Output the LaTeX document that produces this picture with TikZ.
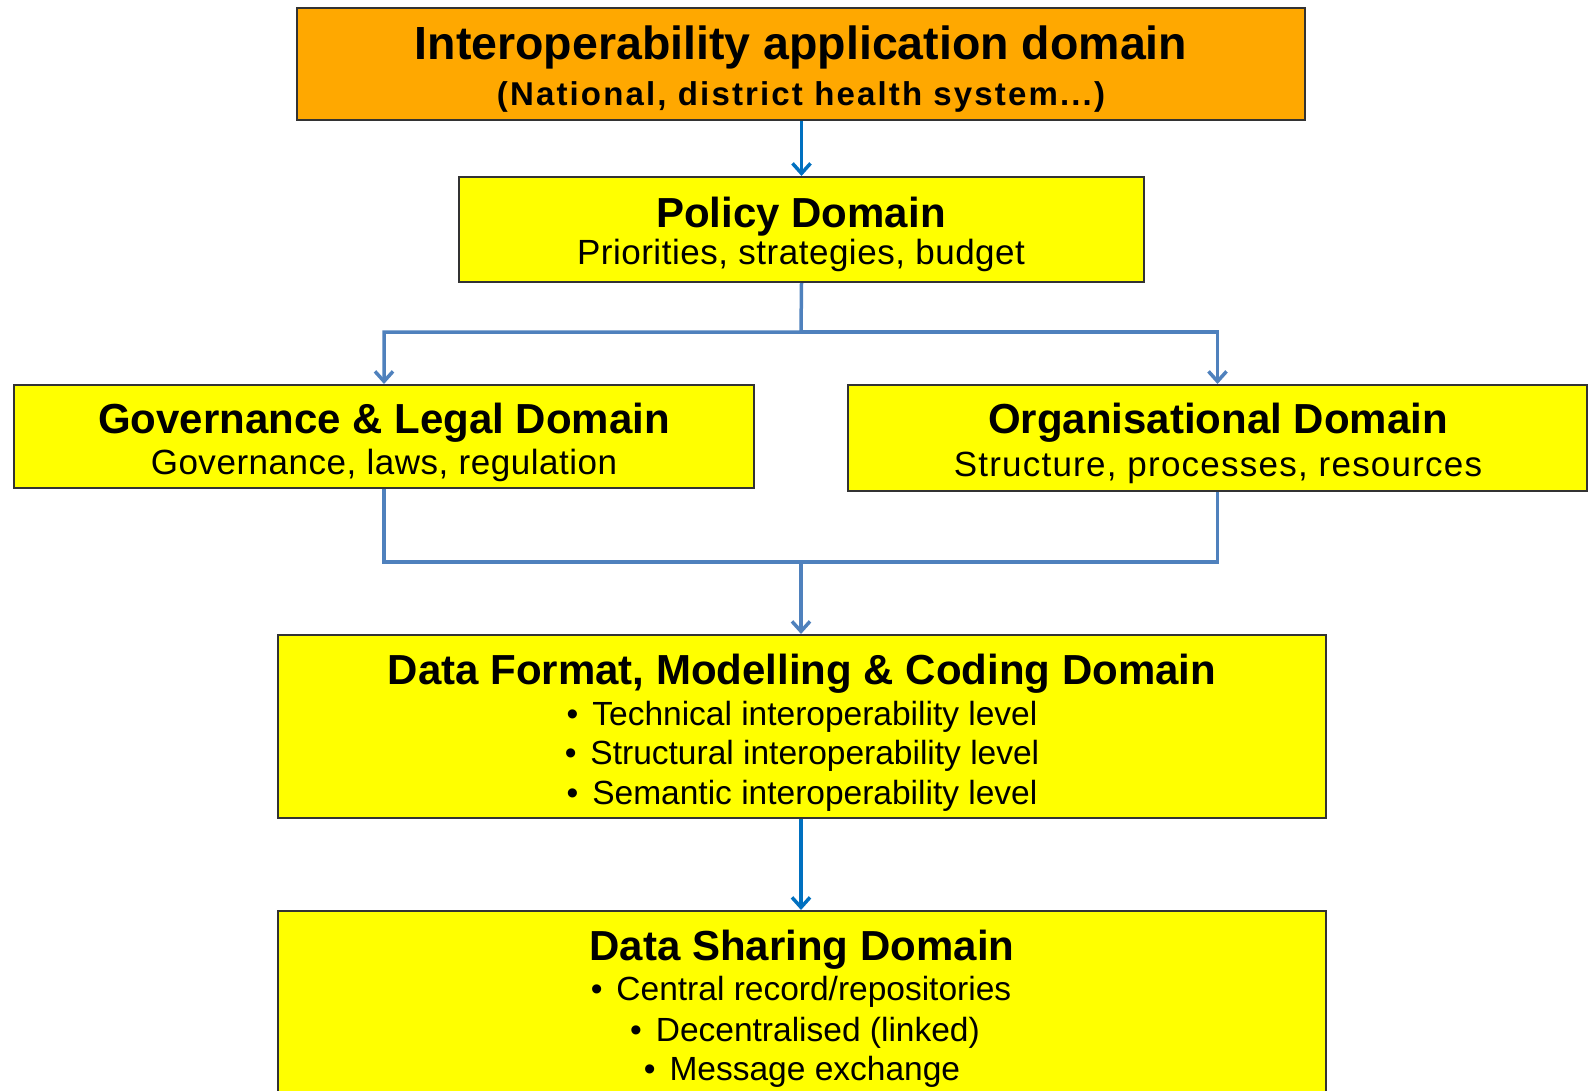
\documentclass[tikz,border=0pt]{standalone}
\usepackage{fontspec}
\setmainfont{Liberation Sans}
\usetikzlibrary{arrows.meta}
\tikzset{>={Straight Barb[length=10pt,width=18pt]}}

\definecolor{boxorange}{HTML}{FFA800}
\definecolor{boxyellow}{HTML}{FFFF00}
\definecolor{linkblue}{HTML}{0070C0}
\definecolor{branchblue}{HTML}{4F81BD}

\tikzset{
  domainbox/.style={draw=black!80, line width=2pt, fill=boxyellow, inner sep=0pt},
  headtext/.style={anchor=base, font=\fontsize{42}{42}\selectfont\bfseries},
  subtext/.style={anchor=base, font=\fontsize{35}{35}\selectfont\addfontfeatures{LetterSpace=1.5}},
  itemtext/.style={anchor=base, font=\fontsize{33.5}{33}\selectfont},
  linkline/.style={draw=linkblue, line width=3.5pt},
  branchline/.style={draw=branchblue, line width=3.5pt}
}

\newcommand{\bul}{\textbullet\hspace{14pt}}

\begin{document}
\begin{tikzpicture}[x=1pt,y=-1pt]
    \useasboundingbox (0,0) rectangle (1589,1091);
    \clip (0,0) rectangle (1589,1091);

    % boxes
    \node[domainbox, fill=boxorange, minimum width=1008pt, minimum height=112pt] (app) at (801,64) {};
    \node[domainbox, minimum width=685pt, minimum height=105pt] (pol) at (801.5,229.5) {};
    \node[domainbox, minimum width=740pt, minimum height=103pt] (gov) at (384,436.5) {};
    \node[domainbox, minimum width=739pt, minimum height=106pt] (org) at (1217.5,438) {};
    \node[domainbox, minimum width=1048pt, minimum height=183pt] (fmt) at (802,726.5) {};
    \node[domainbox, minimum width=1048pt, minimum height=200pt] (share) at (802,1011) {};

    % texts
    \node[headtext, font=\fontsize{46.5}{46}\selectfont\bfseries] (app-h) at (801,60) {Interoperability application domain};
    \node[anchor=base, font=\fontsize{33}{33}\selectfont\bfseries\addfontfeatures{LetterSpace=6.5}] (app-s) at (801,106) {(National, district health system...)};

    \node[headtext] (pol-h) at (801,228) {Policy Domain};
    \node[subtext] (pol-s) at (801,265) {Priorities, strategies, budget};

    \node[headtext] (gov-h) at (384,433) {Governance \& Legal Domain};
    \node[subtext] (gov-s) at (384,474) {Governance, laws, regulation};

    \node[headtext] (org-h) at (1218,433) {Organisational Domain};
    \node[subtext, font=\fontsize{35}{35}\selectfont\addfontfeatures{LetterSpace=3.5}] (org-s) at (1218,476) {Structure, processes, resources};

    \node[headtext] (fmt-h) at (802,684) {Data Format, Modelling \& Coding Domain};
    \node[itemtext] (fmt-1) at (802,725) {\bul Technical interoperability level};
    \node[itemtext] (fmt-2) at (802,764) {\bul Structural interoperability level};
    \node[itemtext] (fmt-3) at (802,804) {\bul Semantic interoperability level};

    \node[headtext] (share-h) at (802,960) {Data Sharing Domain};
    \node[itemtext] (share-1) at (801,1000) {\bul Central record/repositories};
    \node[itemtext] (share-2) at (805,1041) {\bul Decentralised (linked)};
    \node[itemtext] (share-3) at (802,1080) {\bul Message exchange};

    % connectors
    \coordinate (split) at (801,332);
    \coordinate (join) at (801,562);
    \draw[linkline,->] (app.south -| pol.north) -- (pol.north);
    \draw[branchline,->] (pol.south) -- (split) -| (gov.north);
    \draw[branchline,->] (split) -| (org.north);
    \draw[branchline] (gov.south) |- (join) -| (org.south);
    \draw[branchline,->] (join) -- (join |- fmt.north);
    \draw[linkline,->] (join |- fmt.south) -- (join |- share.north);
\end{tikzpicture}
\end{document}
